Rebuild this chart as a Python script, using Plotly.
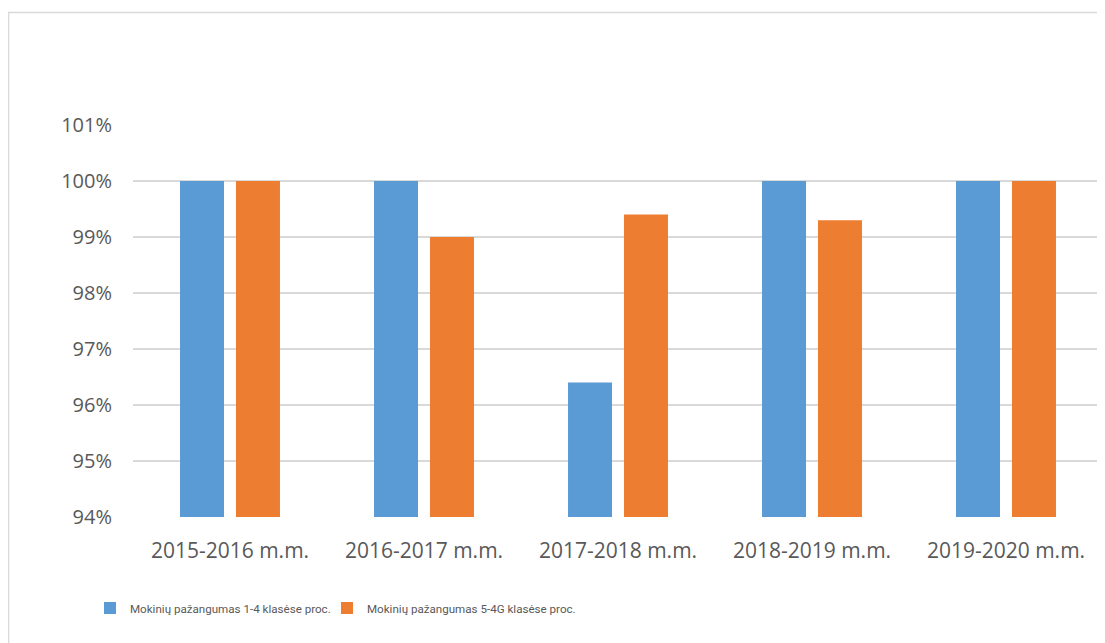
import plotly.graph_objects as go

categories = ["2015-2016 m.m.", "2016-2017 m.m.", "2017-2018 m.m.", "2018-2019 m.m.", "2019-2020 m.m."]
series1_name = "Mokinių pažangumas 1-4 klasėse proc."
series1 = [100.0, 100.0, 96.4, 100.0, 100.0]
series2_name = "Mokinių pažangumas 5-4G klasėse proc."
series2 = [100.0, 99.0, 99.4, 99.3, 100.0]
y_ticks = [94, 95, 96, 97, 98, 99, 100, 101]
y_tick_text = [f"{v}%" for v in y_ticks]

OFF = 8  # default page body margin
W, H = 1105 - OFF, 643 - OFF
L, R, T, B = 133 - OFF, 2, 125 - OFF, 126
pw = W - L - R
ph = H - T - B

def px_x(p):
    return (p - OFF - L) / pw

def px_y(p):
    return (OFF + H - B - p) / ph

fig = go.Figure()
fig.add_trace(go.Bar(x=categories, y=series1, name=series1_name, legend="legend", showlegend=True,
                     marker=dict(color="#5B9BD5", line=dict(width=0))))
fig.add_trace(go.Bar(x=categories, y=series2, name=series2_name, legend="legend2", showlegend=True,
                     marker=dict(color="#ED7D31", line=dict(width=0))))

legend_font = dict(family="Roboto", size=11.6, color="#595959")

fig.update_layout(
    width=W, height=H,
    showlegend=True,
    margin=dict(l=L, r=R, t=T, b=B, pad=0),
    paper_bgcolor="white", plot_bgcolor="white",
    barmode="group", bargap=0.423, bargroupgap=0.214,
    font=dict(family="Open Sans", size=20, color="#595959"),
    xaxis=dict(showgrid=False, showline=False, zeroline=False, ticks="",
               ticklabelstandoff=19, tickfont=dict(size=21)),
    yaxis=dict(range=[94, 101], tickvals=y_ticks, ticktext=y_tick_text, showgrid=True,
               gridcolor="#D9D9D9", gridwidth=1.5, zeroline=False, showline=False,
               ticks="", ticklabelstandoff=20, tickfont=dict(size=20)),
    legend=dict(orientation="h", x=px_x(90), xanchor="left", y=px_y(608), yanchor="middle",
                font=legend_font, bgcolor="rgba(0,0,0,0)"),
    legend2=dict(orientation="h", x=px_x(327), xanchor="left", y=px_y(608), yanchor="middle",
                 font=legend_font, bgcolor="rgba(0,0,0,0)"),
    shapes=[dict(type="rect", xref="paper", yref="paper",
                 x0=px_x(8.5), x1=px_x(1130), y0=px_y(12.5), y1=px_y(680),
                 line=dict(color="#D9D9D9", width=1.5), fillcolor="rgba(0,0,0,0)", layer="below")],
)

fig.write_html("out.html")
